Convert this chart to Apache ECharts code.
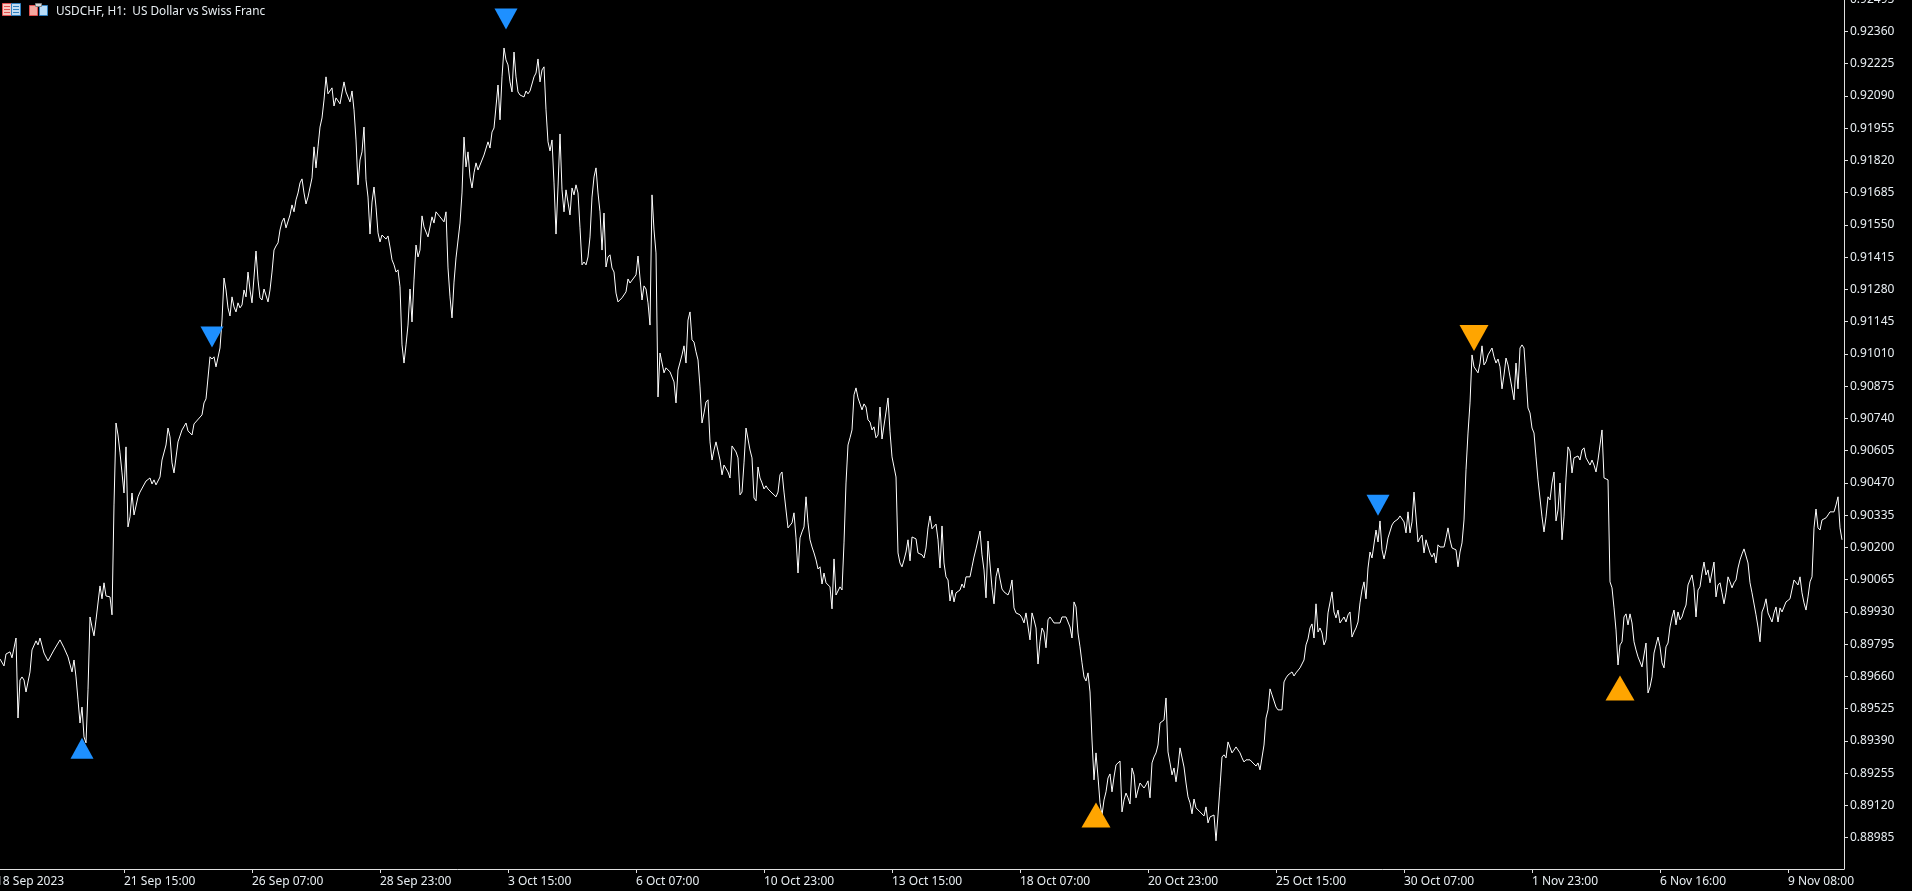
<!DOCTYPE html>
<html>
<head>
<meta charset="utf-8">
<style>html,body{margin:0;padding:0;background:#000;overflow:hidden;width:1912px;height:891px}#c{position:absolute;left:-4px;top:-1px;width:1916px;height:892px}</style>
<script src="https://cdn.jsdelivr.net/npm/echarts@6/dist/echarts.min.js"></script>
</head>
<body>
<div id="c"></div>
<script>
const _ = null;
// Hourly close of USDCHF in units of 0.00001, one entry per bar; _ where no value was read.
const closes = [
89733,89733,89704,89754,89750,89763,89738,_,89821,89486,
89645,89658,89645,89595,_,89679,89771,_,89809,89792,
89821,_,89758,_,89725,89733,_,89771,_,_,
89813,_,89780,_,89742,_,89679,89729,89658,89562,
89465,89532,89407,89382,89604,89909,89867,89830,89897,_,
90039,89985,90052,89997,_,89993,89918,90378,90721,90671,
90596,90512,90428,90621,90286,90328,90428,90336,_,90412,
90432,90428,_,90478,_,90491,90466,90483,90462,_,
90495,90566,_,90629,90700,90663,90554,90512,_,90642,
90650,90692,_,90721,90688,_,90671,90717,90709,_,
_,90755,90805,90822,90830,90998,90989,90998,90956,_,
91035,91152,91328,91278,91203,91169,91249,91207,91186,91224,
91203,91215,91278,91249,91353,91278,91224,91332,91441,91320,
91245,91236,91282,91274,91228,91278,91353,91445,91462,91475,
91529,91563,91579,91538,_,91592,91634,91605,91655,91684,
91726,91743,91684,91638,91667,91667,91747,91877,91789,91877,
91960,91998,92073,92170,92099,92103,92124,92048,92082,92090,
92057,92061,92149,92107,92086,92065,92111,92032,91906,91718,
91822,91856,91960,91739,91667,91512,91646,91709,91625,91517,
91479,91508,91500,91491,91504,91458,91404,91383,91353,91362,
91291,91048,90972,91048,91131,91282,91144,91320,91466,91416,
91445,91588,91542,91538,91500,91500,91584,91558,91605,_,
91584,_,91563,91605,91370,91249,91161,91311,91412,_,
91558,91684,91918,91793,91856,91751,91705,91768,91810,91780,
91801,91805,91843,_,91898,91872,91939,91956,91960,92136,
91990,92170,92291,92241,92220,92149,92107,92274,92170,92107,
92094,_,92086,92111,92099,92111,92107,92170,92186,92245,
92149,92199,92212,92032,91898,91860,91906,91726,91512,91709,
91931,91697,91605,91697,91705,91592,91705,91676,91718,91684,
91538,91383,91395,91383,91416,91500,91667,91751,91789,91684,
91605,91445,91600,91374,91416,91425,91370,91353,91265,91228,
91224,91245,_,91270,91324,91307,91307,_,91341,91420,
91425,91236,91295,91282,91224,91131,91676,91529,91433,90830,
91014,91014,90931,90952,90960,90935,_,90893,90805,90943,
90947,91006,91044,90972,91152,91186,91069,91060,91019,90985,
90872,90721,90763,90809,90818,90642,90566,90608,90642,90642,
90566,90504,90545,90545,90516,90491,90625,90621,90600,90575,
90420,90432,90554,90700,90692,90608,90575,90407,90395,90537,
90491,90470,90445,90458,90445,90453,90428,90424,90412,90432,
90504,90516,90432,90428,90282,90282,90303,90345,90240,90093,
90240,90265,90286,90412,90303,90232,90202,90177,90148,90110,
90119,90047,90093,90052,90056,90035,89943,90152,90001,90006,
90035,90022,90219,90470,90629,90659,90692,90839,90868,90826,
90818,90776,90801,90788,90734,90725,90692,90705,90659,90671,
90788,90654,90659,90767,90826,90684,90579,90537,90495,90177,
90135,90119,90148,90181,90232,90144,90244,90240,90236,90177,
90173,90169,90156,90198,90282,90332,90278,90278,90298,90232,
90114,90290,90135,90077,90064,89976,90022,89972,90010,90010,
90022,90047,90031,90077,90077,90077,90119,90160,90194,90198,
90269,90169,90106,89989,90227,90219,90031,89964,90077,90114,
90068,90026,90014,90022,90001,90022,90064,89947,89926,89922,
89918,89905,89884,89926,89918,89813,89926,89897,89863,89712,
89805,89863,89846,89780,89897,89909,89897,89884,89884,_,
89884,89909,89913,89909,89888,89867,89821,89972,89951,89842,
89784,89717,89658,89641,89675,89595,89394,89227,89340,89239,
89131,89080,89143,89177,89235,89252,89177,89239,89290,89298,
89306,89093,89143,89172,89152,89126,89277,89248,89152,89185,
89214,89214,89193,89206,89223,89152,89298,89323,89340,89373,
89465,89470,89478,89570,89344,89298,89248,89277,89219,89281,
89361,89369,89281,89214,89156,89131,89085,89147,89110,89110,
89093,89089,89076,89114,89047,89072,89068,89080,88972,89080,
89198,89323,89332,89319,89386,89394,89340,89352,89365,89361,
89340,89319,89302,89311,89306,89311,89302,89298,89285,89298,
89269,89269,89373,89486,89520,89608,89583,89591,89532,89520,
89512,89520,89637,89654,89666,89658,89679,89662,89675,89679,
89696,89696,89729,89792,89817,89863,89880,89821,89964,89846,
89863,89842,89792,89813,89926,_,90014,89930,89905,89938,
89884,89897,89909,89888,89918,89930,89825,89846,89863,89888,
89968,90022,90056,89985,90114,90181,90156,90160,90273,90223,
90311,90190,90152,90190,90240,90240,90294,90307,90303,90319,
90332,90324,90307,90261,90349,90261,90307,90432,90432,90223,
90240,90252,90177,90232,90236,90177,90160,90177,90135,90211,
90202,90198,90202,90240,90282,90232,90198,90198,90190,90119,
90181,90219,90315,90525,90679,90805,91006,90956,90964,90931,
90972,91044,90964,90977,91006,_,91035,90998,90972,90989,
90956,90864,90922,90993,90964,90914,90922,90818,90972,90864,
91035,91048,91035,90914,90784,90763,90700,90679,90579,90483,
90491,90328,90265,90328,90412,90399,90470,90516,90311,90357,
90470,90232,90328,90491,90621,90604,90512,90575,90583,90583,
90566,90608,90617,90575,90575,90545,90566,90545,90516,90566,
90629,90692,90491,90483,90483,90056,90031,89947,89855,89708,
89792,89805,89909,89922,89876,89922,89884,89805,89771,89742,
89738,89700,89700,89800,89591,89616,89658,89758,89792,89825,
89784,89717,89696,89784,89800,89867,89909,89938,89876,89930,
89897,89909,89938,89959,90043,90035,90085,90031,89909,90022,
90035,90093,90139,90085,90106,90052,90056,90139,89993,90043,
90052,90010,89964,90010,90077,90056,90031,90052,90064,90114,
90148,90173,90194,90202,90135,90052,90010,90014,89918,89867,
89805,89930,89951,89985,89926,89918,89888,89926,89951,89888,
89947,89930,89926,89972,89968,89985,89989,90064,90068,90043,
90077,90010,89968,89938,89993,90056,90077,90282,90361,90282,
90273,90315,90319,90324,90336,90349,90345,90349,90378,90412,
90282,90232
];

const priceTicks = [0.88985,0.8912,0.89255,0.8939,0.89525,0.8966,0.89795,0.8993,0.90065,0.902,0.90335,0.9047,0.90605,0.9074,0.90875,0.9101,0.91145,0.9128,0.91415,0.9155,0.91685,0.9182,0.91955,0.9209,0.92225,0.9236,0.92495];

const timeTickBars = [-2,62,126,190,254,318,382,446,510,574,638,702,766,830,894];
const timeTickLabels = ['18 Sep 2023','21 Sep 15:00','26 Sep 07:00','28 Sep 23:00','3 Oct 15:00','6 Oct 07:00','10 Oct 23:00','13 Oct 15:00','18 Oct 07:00','20 Oct 23:00','25 Oct 15:00','30 Oct 07:00','1 Nov 23:00','6 Nov 16:00','9 Nov 08:00'];

// Signal arrows: [bar, price]
const blueUp = [[41,0.89359]];
const blueDown = [[106,0.91081],[253,0.92412],[689,0.90377]];
const orangeUp = [[548,0.89080],[810,0.89612]];
const orangeDown = [[737,0.91077]];

const FONT = '"Noto Sans"';
const TXT = '#e8eef2';
const AXIS = '#e0e0e0';

const lineData = closes.map((v,i)=> v===null ? [i,null] : [i, v/100000]);
const arrow = (name,data,rot,color,size)=>({
  name, type:'scatter', data, symbol:'triangle', symbolSize:size, symbolRotate:rot,
  itemStyle:{color,opacity:1}, z:5, silent:true
});

const chart = echarts.init(document.getElementById('c'), null, {renderer:'canvas'});
chart.setOption({
  animation:false,
  backgroundColor:'#000',
  title:{text:'USDCHF, H1:  US Dollar vs Swiss Franc',left:60,top:7,padding:0,
    textStyle:{color:TXT,fontFamily:FONT,fontSize:11.8,fontWeight:'normal'}},
  grid:{left:0,right:68,top:0,bottom:22,containLabel:false,outerBoundsMode:'none'},
  xAxis:{type:'value',min:-2,max:922,splitLine:{show:false},
    axisLine:{show:true,onZero:false,lineStyle:{color:AXIS,width:1}},
    axisTick:{show:true,length:4,customValues:timeTickBars,lineStyle:{color:AXIS}},
    axisLabel:{show:true,customValues:timeTickBars,align:'left',margin:7,color:TXT,fontFamily:FONT,fontSize:12,
      showMinLabel:true,showMaxLabel:true,hideOverlap:false,
      formatter:v=>timeTickLabels[timeTickBars.indexOf(v)]||''}},
  yAxis:{type:'value',position:'right',min:0.88854,max:0.92496,splitLine:{show:false},
    axisLine:{show:true,onZero:false,lineStyle:{color:AXIS,width:1}},
    axisTick:{show:true,length:4,customValues:priceTicks,lineStyle:{color:AXIS}},
    axisLabel:{show:true,customValues:priceTicks,margin:6,color:TXT,fontFamily:FONT,fontSize:12,
      showMinLabel:true,showMaxLabel:true,hideOverlap:false,
      formatter:v=>v.toFixed(5)}},
  series:[
    {name:'USDCHF',type:'line',data:lineData,showSymbol:false,connectNulls:true,smooth:false,sampling:false,
      lineStyle:{color:'#ffffff',width:1},itemStyle:{color:'#ffffff'},silent:true,z:2},
    arrow('Up',blueUp,0,'#1E90FF',[23,21]),
    arrow('Down',blueDown,180,'#1E90FF',[23,21]),
    arrow('Up2',orangeUp,0,'#FFA500',[29,25]),
    arrow('Down2',orangeDown,180,'#FFA500',[29,26])
  ],
  graphic:[{type:'group',x:4,y:1,children:[
    {type:'rect',shape:{x:2.5,y:3.5,width:9,height:12},style:{fill:'#f8c8c0',stroke:'#e05050',lineWidth:1}},
    {type:'rect',shape:{x:11.5,y:3.5,width:9,height:12},style:{fill:'#c0dcf4',stroke:'#3080c0',lineWidth:1}},
    {type:'rect',shape:{x:4,y:6,width:6,height:1},style:{fill:'#e05050'}},
    {type:'rect',shape:{x:4,y:9,width:6,height:1},style:{fill:'#e05050'}},
    {type:'rect',shape:{x:4,y:12,width:6,height:1},style:{fill:'#e05050'}},
    {type:'rect',shape:{x:13,y:6,width:6,height:1},style:{fill:'#3080c0'}},
    {type:'rect',shape:{x:13,y:9,width:6,height:1},style:{fill:'#3080c0'}},
    {type:'rect',shape:{x:13,y:12,width:6,height:1},style:{fill:'#3080c0'}},
    {type:'rect',shape:{x:29.5,y:5.5,width:8,height:10},style:{fill:'#f4a8a0',stroke:'#e05050',lineWidth:1}},
    {type:'rect',shape:{x:39.5,y:5.5,width:8,height:10},style:{fill:'#b8dcf8',stroke:'#3080c0',lineWidth:1}},
    {type:'rect',shape:{x:35.5,y:3.5,width:6,height:3},style:{fill:'#d8d8d8',stroke:'#808080',lineWidth:1}}
  ]}]
});
</script>
</body>
</html>
